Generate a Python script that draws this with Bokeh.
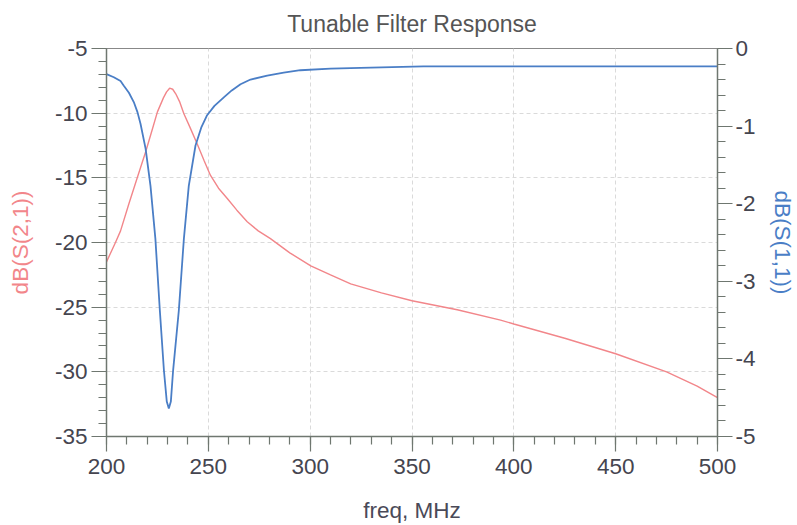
from bokeh.plotting import figure
from bokeh.models import Range1d, LinearAxis, FixedTicker
from bokeh.embed import file_html
from bokeh.resources import INLINE

# Data
s21_freq = [200, 204.4, 206.9, 211, 215.1, 219.2, 222.4, 225, 228, 229.5, 231, 232.5, 234, 236, 238,
            241, 244.6, 248, 251, 255, 259.3, 264, 269.1, 274.5, 280.5, 290, 300.3, 310, 319.9,
            335, 350, 372.2, 393.5, 400, 425, 450, 475, 490, 500]
s21_db = [-21.5, -20.0, -19.1, -17.0, -15.0, -13.0, -11.3, -9.9, -8.8, -8.35, -8.07, -8.15, -8.5, -9.15, -10.05,
          -11.1, -12.4, -13.7, -14.8, -15.8, -16.6, -17.5, -18.4, -19.1, -19.7, -20.8, -21.8, -22.5, -23.2,
          -23.9, -24.5, -25.2, -26.0, -26.3, -27.4, -28.6, -30.0, -31.1, -32.0]

s11_freq = [200, 203.6, 206.9, 208.5, 211, 213.4, 215.2, 216.7, 219.2, 221.6, 224, 226.2, 228.2, 229.6,
            230.6, 231.6, 232.7, 235.5, 238, 240.4, 243.7, 246.5, 249.4, 253, 257.6, 261.5, 265.8,
            270.7, 278.9, 287, 295.2, 310, 324.7, 355.6, 400, 450, 500]
s11_db = [-0.33, -0.37, -0.42, -0.48, -0.57, -0.69, -0.82, -0.97, -1.29, -1.77, -2.45, -3.38, -4.15, -4.55,
          -4.64, -4.55, -4.15, -3.38, -2.45, -1.77, -1.25, -1.02, -0.86, -0.74, -0.63, -0.54, -0.46,
          -0.40, -0.35, -0.31, -0.28, -0.26, -0.25, -0.23, -0.23, -0.23, -0.23]

x_major = [200, 250, 300, 350, 400, 450, 500]
x_minor = list(range(200, 501, 10))
left_major = [-35, -30, -25, -20, -15, -10, -5]
left_minor = list(range(-35, -4, 1))
right_major = [-5, -4, -3, -2, -1, 0]
right_minor = [round(-5 + 0.2 * i, 1) for i in range(26)]

TITLE = "Tunable Filter Response"
FONT = "Liberation Sans"
TICK_COLOR = "#45454f"
AXIS_COLOR = "#6f7770"
RED = "#f2868a"
BLUE = "#4a7ec6"

p = figure(width=797, height=525, x_range=Range1d(200, 500), y_range=Range1d(-35, -5),
           output_backend="svg", toolbar_location=None, title=TITLE,
           min_border_left=106, min_border_right=80, min_border_top=48, min_border_bottom=89)
p.extra_y_ranges = {"s11": Range1d(-5, 0)}

p.title.align = "center"
p.title.vertical_align = "top"
p.title.text_font = FONT
p.title.text_font_size = "23px"
p.title.text_font_style = "normal"
p.title.text_color = "#555555"
p.title.standoff = 20

p.outline_line_color = "#888888"
p.background_fill_color = "white"
p.border_fill_color = "white"

p.line(s21_freq, s21_db, color=RED, line_width=1.4)
p.line(s11_freq, s11_db, color=BLUE, line_width=1.8, y_range_name="s11")

raxis = LinearAxis(y_range_name="s11")
p.add_layout(raxis, "right")

xa = p.xaxis[0]
la = p.yaxis[0]
xa.ticker = FixedTicker(ticks=x_major, minor_ticks=x_minor)
la.ticker = FixedTicker(ticks=left_major, minor_ticks=left_minor)
raxis.ticker = FixedTicker(ticks=right_major, minor_ticks=right_minor)

la.major_label_overrides = {v: str(v) for v in left_major}
raxis.major_label_overrides = {v: str(v) for v in right_major}
xa.major_label_overrides = {v: str(v) for v in x_major}

xa.axis_label = "freq, MHz"
la.axis_label = "dB(S(2,1))"
raxis.axis_label = "dB(S(1,1))"

for ax in (xa, la, raxis):
    ax.axis_line_color = AXIS_COLOR
    ax.axis_line_width = 1.5
    ax.major_tick_line_color = AXIS_COLOR
    ax.minor_tick_line_color = AXIS_COLOR
    ax.major_tick_line_width = 1.2
    ax.minor_tick_line_width = 1.2
    ax.major_tick_out = 15
    ax.major_tick_in = 0
    ax.minor_tick_out = 8
    ax.minor_tick_in = 0
    ax.major_label_text_font = FONT
    ax.major_label_text_font_size = "22.5px"
    ax.major_label_text_color = TICK_COLOR
    ax.axis_label_text_font = FONT
    ax.axis_label_text_font_size = "22.5px"
    ax.axis_label_text_font_style = "normal"

xa.major_label_standoff = 7
xa.axis_label_standoff = 21
xa.axis_label_text_color = "#4a4a58"
la.major_label_standoff = 4
la.axis_label_standoff = 19
la.axis_label_text_color = RED
raxis.major_label_standoff = 3
raxis.axis_label_standoff = 11
raxis.axis_label_text_color = BLUE

p.xgrid.ticker = FixedTicker(ticks=x_major)
p.ygrid.ticker = FixedTicker(ticks=left_major)
for g in (p.xgrid, p.ygrid):
    g.grid_line_color = "#dadada"
    g.grid_line_dash = "4 3"
    g.grid_line_width = 1

open("out.html", "w").write(file_html(p, INLINE))
